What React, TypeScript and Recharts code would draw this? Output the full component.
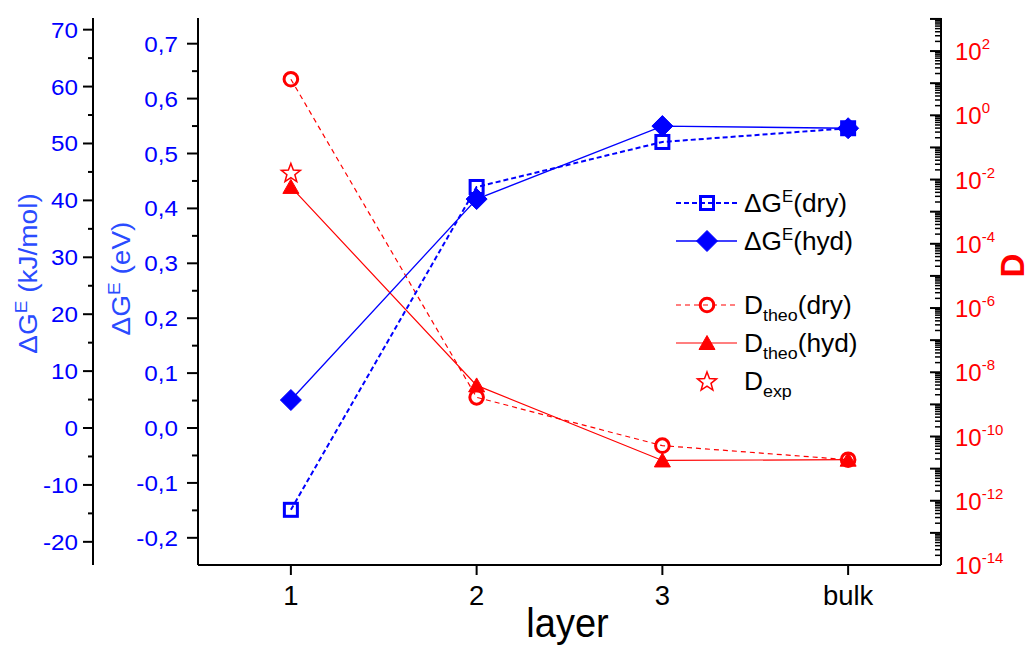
import React from 'react';
import { LineChart, Line, XAxis, YAxis, Legend } from 'recharts';

// x categories
const LAYERS = ['1', '2', '3', 'bulk'];
const LAYER_POS = [1, 2, 3, 4];

// excess free energy in eV (left inner axis)
const DG_DRY = [-0.149, 0.439, 0.521, 0.546];
const DG_HYD = [0.051, 0.417, 0.55, 0.546];

// D on the log axis (right)
const D_DRY = [13.3, 1.66e-9, 5.2e-11, 1.9e-11];
const D_HYD = [5.9e-3, 3.9e-9, 1.8e-11, 1.9e-11];
const D_EXP = [1.66e-2, null, null, null];

// axis ticks
const EV_MAJOR = [-0.2, -0.1, 0, 0.1, 0.2, 0.3, 0.4, 0.5, 0.6, 0.7];
const KJ_MAJOR = [-20, -10, 0, 10, 20, 30, 40, 50, 60, 70];
const D_DECADES = [-14, -13, -12, -11, -10, -9, -8, -7, -6, -5, -4, -3, -2, -1, 0, 1, 2];

const EV_DOMAIN = [-0.2495, 0.7468];
const KJ_DOMAIN = [-24.07, 72.05];
const D_DOMAIN = [1e-14, 1.07e3];

const ROWS = LAYER_POS.map((x, i) => ({
  x,
  dgDry: DG_DRY[i],
  dgHyd: DG_HYD[i],
  dDry: D_DRY[i],
  dHyd: D_HYD[i],
  dExp: D_EXP[i],
}));

const withMinor = (major: number[], step: number, dom: number[]) =>
  major
    .flatMap((v) => [v, +(v + step).toFixed(3)])
    .filter((v) => v >= dom[0] && v <= dom[1]);

const EV_TICKS = withMinor(EV_MAJOR, 0.05, EV_DOMAIN);
const KJ_TICKS = withMinor(KJ_MAJOR, 5, KJ_DOMAIN);
const D_TICKS = D_DECADES.flatMap((e) => [1, 2, 3, 4, 5, 6, 7, 8, 9].map((m) => m * Math.pow(10, e)))
  .concat([1e3])
  .filter((v) => v <= D_DOMAIN[1]);

const FONT = '"Liberation Sans", Arial, sans-serif';
const BLUE = '#0000ff';
const TITLE_BLUE = '#2a4bff';
const RED = '#ff0000';
const STRETCH = 1.1;

function SText({ x, y, anchor = 'start', size, fill = '#000', sx = 1, rotate = 0, weight = 'normal', children }: any) {
  const t = `translate(${x} ${y})${rotate ? ` rotate(${rotate})` : ''} scale(${sx} 1)`;
  return (
    <text transform={t} textAnchor={anchor} fontSize={size} fill={fill} fontWeight={weight} fontFamily={FONT}>
      {children}
    </text>
  );
}

// markers
const Square = ({ cx, cy, color = BLUE }: any) => (
  <rect x={cx - 6.5} y={cy - 6.5} width={13} height={13} fill="none" stroke={color} strokeWidth={3} />
);
const Diamond = ({ cx, cy, color = BLUE }: any) => (
  <path d={`M${cx},${cy - 10.5} L${cx + 10.5},${cy} L${cx},${cy + 10.5} L${cx - 10.5},${cy} Z`} fill={color} stroke={color} strokeWidth={1} strokeLinejoin="round" />
);
const Circle = ({ cx, cy, color = RED }: any) => (
  <circle cx={cx} cy={cy} r={6.8} fill="none" stroke={color} strokeWidth={3} />
);
const Triangle = ({ cx, cy, color = RED }: any) => (
  <path d={`M${cx},${cy - 7.5} L${cx + 8},${cy + 6.5} L${cx - 8},${cy + 6.5} Z`} fill={color} stroke={color} strokeWidth={1} strokeLinejoin="round" />
);
const Star = ({ cx, cy, color = RED }: any) => {
  const pts: string[] = [];
  for (let i = 0; i < 10; i++) {
    const r = i % 2 === 0 ? 10 : 4.2;
    const a = -Math.PI / 2 + (i * Math.PI) / 5;
    pts.push(`${cx + r * Math.cos(a)},${cy + 1 + r * Math.sin(a)}`);
  }
  return <polygon points={pts.join(' ')} fill="none" stroke={color} strokeWidth={1.5} />;
};

const SERIES: Record<string, any> = {
  dgDry: { color: BLUE, width: 2, dash: '5 3', Mark: Square },
  dgHyd: { color: BLUE, width: 1.3, dash: undefined, Mark: Diamond },
  dDry: { color: RED, width: 1.2, dash: '5 4', Mark: Circle },
  dHyd: { color: RED, width: 1.2, dash: undefined, Mark: Triangle },
  dExp: { color: RED, width: 0, dash: undefined, Mark: Star },
};

const dotFor = (key: string) => (p: any) => {
  const { Mark, color } = SERIES[key];
  if (p.cy == null || p.value == null) return <g key={`${key}-${p.index}`} />;
  return <Mark key={`${key}-${p.index}`} cx={p.cx} cy={p.cy} color={color} />;
};

// ticks
function XTick({ x, y, payload }: any) {
  return (
    <SText x={x} y={y + 30} anchor="middle" size={28} sx={0.98}>
      {LAYERS[payload.value - 1]}
    </SText>
  );
}

function KjTick({ x, y, payload }: any) {
  const v = payload.value;
  const major = Math.abs(v % 10) < 1e-6;
  return (
    <g>
      <line x1={x} x2={x - (major ? 10 : 5)} y1={y} y2={y} stroke="#000" strokeWidth={2} />
      {major && (
        <SText x={x - 15} y={y + 8} anchor="end" size={22} fill={BLUE} sx={STRETCH}>
          {String(v)}
        </SText>
      )}
    </g>
  );
}

function EvTick({ x, y, payload }: any) {
  const v = payload.value;
  const major = Math.abs(v * 10 - Math.round(v * 10)) < 1e-6;
  return (
    <g>
      <line x1={x} x2={x - (major ? 11 : 6)} y1={y} y2={y} stroke="#000" strokeWidth={2} />
      {major && (
        <SText x={x - 20} y={y + 8} anchor="end" size={22} fill={BLUE} sx={STRETCH}>
          {v.toFixed(1).replace('.', ',')}
        </SText>
      )}
    </g>
  );
}

function DTick({ x, y, payload }: any) {
  const lg = Math.log10(payload.value);
  const e = Math.round(lg);
  const major = Math.abs(lg - e) < 1e-6;
  const labeled = major && e % 2 === 0 && e <= 2;
  return (
    <g>
      <line x1={x} x2={x - (major ? 11 : 6)} y1={y} y2={y} stroke="#000" strokeWidth={major ? 2 : 1.5} />
      {labeled && (
        <SText x={x + 14} y={y + 9} size={24} fill={RED} sx={1.0}>
          <tspan>10</tspan>
          <tspan dy={-11} fontSize={15}>{String(e)}</tspan>
        </SText>
      )}
    </g>
  );
}

// axis titles
function XTitle({ viewBox }: any) {
  const vb = viewBox || { x: 198, y: 565, width: 743, height: 82 };
  return (
    <SText x={vb.x + vb.width / 2 - 2} y={vb.y + 72} anchor="middle" size={40} sx={0.95}>
      layer
    </SText>
  );
}

function GTitle({ viewBox, unit, dy }: any) {
  const vb = viewBox || { x: 0, y: 18, width: 93, height: 547 };
  return (
    <SText x={vb.x + 37} y={vb.y + vb.height / 2 + dy} anchor="middle" size={25} fill={TITLE_BLUE} rotate={-90} sx={1.12}>
      <tspan>ΔG</tspan>
      <tspan dy={-10} fontSize={17}>E</tspan>
      <tspan dy={10}>{` (${unit})`}</tspan>
    </SText>
  );
}

function DTitle({ viewBox }: any) {
  const vb = viewBox || { x: 941, y: 18, width: 92, height: 547 };
  return (
    <SText x={vb.x + 83} y={vb.y + vb.height / 2 - 26} anchor="middle" size={33} fill={RED} rotate={-90} weight="bold">
      D
    </SText>
  );
}

// legend
const LEGEND_ROWS = [
  { key: 'dgDry', main: 'ΔG', sup: 'E', sub: '', tail: '(dry)' },
  { key: 'dgHyd', main: 'ΔG', sup: 'E', sub: '', tail: '(hyd)' },
  { key: 'dDry', main: 'D', sup: '', sub: 'theo', tail: '(dry)' },
  { key: 'dHyd', main: 'D', sup: '', sub: 'theo', tail: '(hyd)' },
  { key: 'dExp', main: 'D', sup: '', sub: 'exp', tail: '' },
];
const LEGEND_Y = [23, 61, 125, 163, 201];

function LegendBox() {
  return (
    <svg width={240} height={225} style={{ overflow: 'visible' }}>
      {LEGEND_ROWS.map((r, i) => {
        const s = SERIES[r.key];
        const y = LEGEND_Y[i];
        const M = s.Mark;
        return (
          <g key={r.key}>
            {s.width > 0 && (
              <line x1={16} x2={77} y1={y} y2={y} stroke={s.color} strokeWidth={s.width} strokeDasharray={s.dash} />
            )}
            <M cx={47} cy={y} color={s.color} />
            <SText x={84} y={y + 9} size={25} sx={1.05}>
              <tspan>{r.main}</tspan>
              {r.sup && <tspan dy={-10} fontSize={16}>{r.sup}</tspan>}
              {r.sub && <tspan dy={7} fontSize={17}>{r.sub}</tspan>}
              {r.tail && <tspan dy={r.sup ? 10 : -7}>{r.tail}</tspan>}
            </SText>
          </g>
        );
      })}
    </svg>
  );
}

const AXIS_LINE = { stroke: '#000', strokeWidth: 2 };

export default function App() {
  return (
    <div style={{ position: 'absolute', left: 0, top: 0, width: 1033, height: 647, background: '#fff' }}>
      <LineChart width={1033} height={647} data={ROWS} margin={{ top: 18, right: 0, bottom: 0, left: 0 }}>
        <XAxis
          dataKey="x"
          type="number"
          domain={[0.5, 4.5]}
          allowDataOverflow
          ticks={LAYER_POS}
          interval={0}
          height={82}
          axisLine={AXIS_LINE}
          tickLine={AXIS_LINE}
          tickSize={10}
          tickMargin={0}
          tick={<XTick />}
          label={<XTitle />}
        />
        <YAxis
          yAxisId="ev"
          orientation="left"
          type="number"
          width={105}
          domain={EV_DOMAIN}
          allowDataOverflow
          ticks={EV_TICKS}
          interval={0}
          axisLine={AXIS_LINE}
          tickLine={false}
          tickSize={0}
          tickMargin={0}
          tick={<EvTick />}
          label={<GTitle unit="eV" dy={-13} />}
        />
        <YAxis
          yAxisId="kj"
          orientation="left"
          type="number"
          width={93}
          domain={KJ_DOMAIN}
          allowDataOverflow
          ticks={KJ_TICKS}
          interval={0}
          axisLine={AXIS_LINE}
          tickLine={false}
          tickSize={0}
          tickMargin={0}
          tick={<KjTick />}
          label={<GTitle unit="kJ/mol" dy={-18} />}
        />
        <YAxis
          yAxisId="d"
          orientation="right"
          type="number"
          scale="log"
          width={92}
          domain={D_DOMAIN}
          allowDataOverflow
          ticks={D_TICKS}
          interval={0}
          axisLine={AXIS_LINE}
          tickLine={false}
          tickSize={0}
          tickMargin={0}
          tick={<DTick />}
          label={<DTitle />}
        />
        {['dHyd', 'dDry', 'dExp'].map((k) => (
          <Line
            key={k}
            yAxisId="d"
            dataKey={k}
            type="linear"
            stroke={SERIES[k].width ? SERIES[k].color : 'none'}
            strokeWidth={SERIES[k].width}
            strokeDasharray={SERIES[k].dash}
            dot={dotFor(k)}
            activeDot={false}
            isAnimationActive={false}
          />
        ))}
        {['dgDry', 'dgHyd'].map((k) => (
          <Line
            key={k}
            yAxisId="ev"
            dataKey={k}
            type="linear"
            stroke={SERIES[k].color}
            strokeWidth={SERIES[k].width}
            strokeDasharray={SERIES[k].dash}
            dot={dotFor(k)}
            activeDot={false}
            isAnimationActive={false}
          />
        ))}
        <Legend
          layout="vertical"
          align="center"
          verticalAlign="middle"
          wrapperStyle={{ left: 660, top: 180, width: 240, height: 225 }}
          content={() => <LegendBox />}
        />
      </LineChart>
    </div>
  );
}
